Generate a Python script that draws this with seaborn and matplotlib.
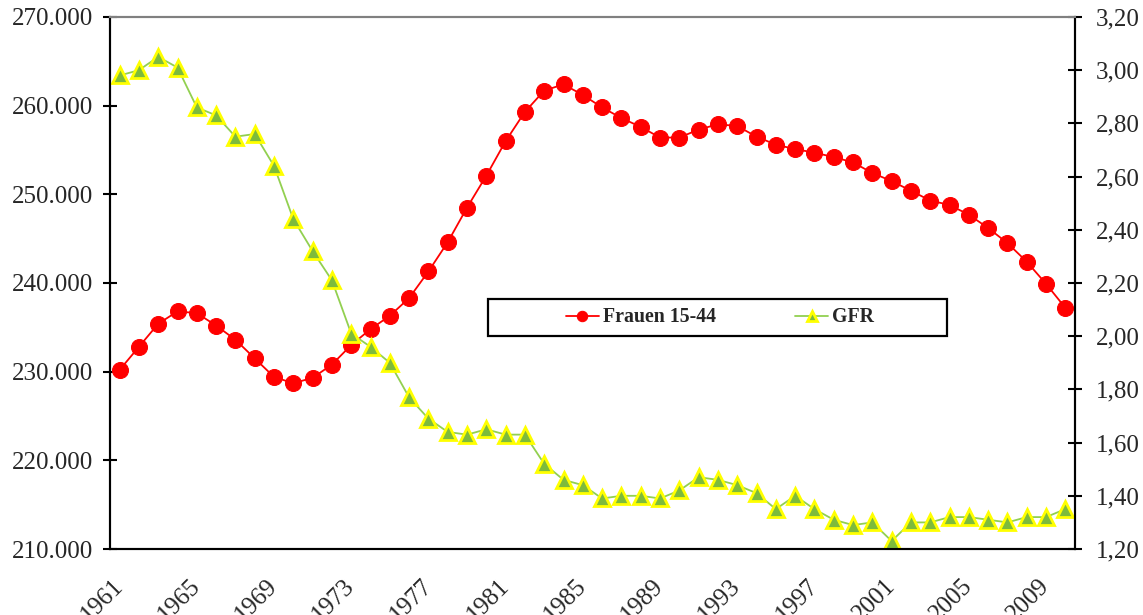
import numpy as np
import pandas as pd
import matplotlib
matplotlib.use('Agg')
import matplotlib.pyplot as plt
import matplotlib.ticker as mticker
from matplotlib.patches import Rectangle
import seaborn as sns

years = list(range(1961, 2011))
frauen = [230.2, 232.8, 235.4, 236.8, 236.6, 235.2, 233.6, 231.5, 229.4, 228.7,
          229.3, 230.8, 233.0, 234.8, 236.3, 238.3, 241.3, 244.6, 248.5, 252.1,
          256.0, 259.3, 261.7, 262.4, 261.2, 259.8, 258.6, 257.6, 256.4, 256.4,
          257.3, 257.9, 257.7, 256.5, 255.6, 255.1, 254.7, 254.2, 253.6, 252.4,
          251.5, 250.4, 249.3, 248.8, 247.7, 246.2, 244.5, 242.4, 239.9, 237.2]
frauen = [v * 1000 for v in frauen]
gfr = [2.98, 3.00, 3.05, 3.01, 2.86, 2.83, 2.75, 2.76, 2.64, 2.44,
       2.32, 2.21, 2.01, 1.96, 1.90, 1.77, 1.69, 1.64, 1.63, 1.65,
       1.63, 1.63, 1.52, 1.46, 1.44, 1.39, 1.40, 1.40, 1.39, 1.42,
       1.47, 1.46, 1.44, 1.41, 1.35, 1.40, 1.35, 1.31, 1.29, 1.30,
       1.23, 1.30, 1.30, 1.32, 1.32, 1.31, 1.30, 1.32, 1.32, 1.35]
year_labels = [str(y) for y in range(1961, 2011, 4)]

df = pd.DataFrame({'Jahr': years, 'Frauen 15-44': frauen, 'GFR': gfr})

sns.set_style('white')
plt.rcParams['font.family'] = ['Liberation Serif', 'DejaVu Serif']

fig = plt.figure(figsize=(11.43, 6.15), dpi=100)
ax = fig.add_axes([0.0962, 0.1073, 0.8443, 0.8651])
ax2 = ax.twinx()

sns.lineplot(data=df, x='Jahr', y='Frauen 15-44', ax=ax, color='#FF0000', marker='o',
             markersize=11.5, markeredgecolor='#FF0000', linewidth=1.3, label='Frauen 15-44', legend=False)
sns.lineplot(data=df, x='Jahr', y='GFR', ax=ax2, color='#92D050', marker='^',
             markersize=11.5, markerfacecolor='#7DBB3C', markeredgecolor='#FFFF00',
             markeredgewidth=2, linewidth=1.3, label='GFR', legend=False)

ax.set_xlim(1960.5, 2010.5)
ax.set_ylim(210000, 270000)
ax2.set_ylim(1.2, 3.2)
ax.set_yticks(np.arange(210000, 270001, 10000))
ax2.set_yticks(np.arange(1.2, 3.201, 0.2))
ax.yaxis.set_major_formatter(mticker.FuncFormatter(lambda v, p: f'{int(v):,}'.replace(',', '.')))
ax2.yaxis.set_major_formatter(mticker.FuncFormatter(lambda v, p: f'{v:.2f}'.replace('.', ',')))

ax.set_xticks(list(range(1961, 2011, 4)))
ax.set_xticklabels(year_labels, rotation=45, ha='right', va='center', rotation_mode='anchor')
ax.set_xticks(np.arange(1960.5, 2011, 1), minor=True)
ax.tick_params(axis='x', which='major', length=0, pad=24, labelsize=18)
ax.tick_params(axis='x', which='minor', direction='inout', length=9.5, width=1.5, color='black')
ax.tick_params(axis='y', direction='inout', length=9.5, width=1.5, labelsize=18, pad=7.5, left=True, color='black')
ax2.tick_params(axis='y', direction='inout', length=9.5, width=1.5, labelsize=18, pad=10, right=True, color='black')

ax.set_xlabel('')
ax.set_ylabel('')
ax2.set_ylabel('')

for a in (ax, ax2):
    for s in ('left', 'right', 'bottom'):
        a.spines[s].set_color('black')
        a.spines[s].set_linewidth(1.5)
    a.spines['top'].set_color('#808080')
    a.spines['top'].set_linewidth(1.5)

# legend box
fig.patches.append(Rectangle((488 / 1143, 1 - 336 / 615), 459 / 1143, 37 / 615,
                             transform=fig.transFigure, facecolor='white',
                             edgecolor='black', linewidth=1.6, zorder=5))
h1, l1 = ax.get_legend_handles_labels()
h2, l2 = ax2.get_legend_handles_labels()
leg = fig.legend(h1 + h2, l1 + l2, bbox_to_anchor=(720 / 1143, 1 - 317.5 / 615),
                 loc='center', ncol=2, frameon=False, markerscale=0.65,
                 prop={'weight': 'bold', 'size': 14.3}, handlelength=1.65,
                 handletextpad=0.2, columnspacing=4.0, borderaxespad=0)
leg.set_zorder(6)

fig.savefig('out.png', dpi=100)
